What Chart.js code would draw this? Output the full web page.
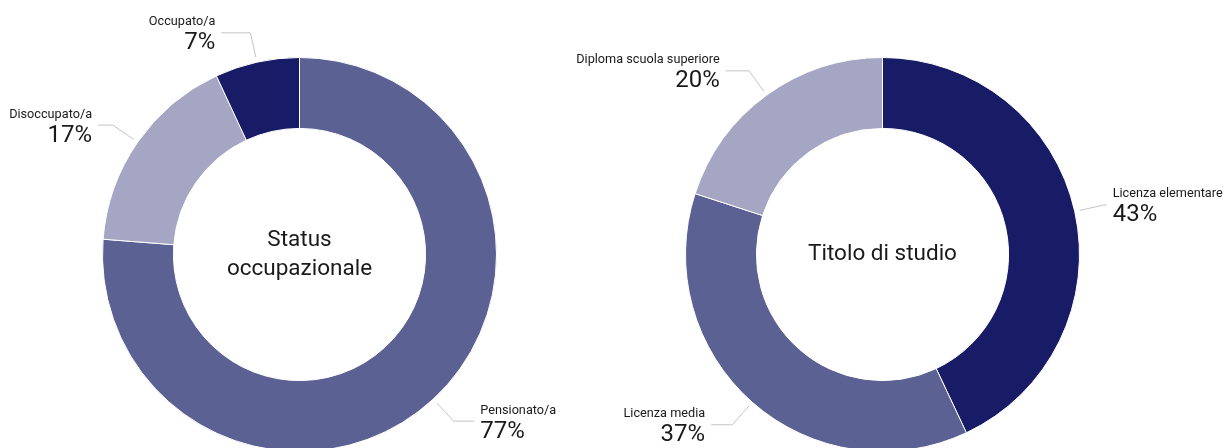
<!DOCTYPE html>
<html>
<head>
<meta charset="utf-8">
<script src="https://cdn.jsdelivr.net/npm/chart.js@4"></script>
<style>
  html, body { margin: 0; padding: 0; background: #fff; overflow: hidden; }
  .wrap { position: absolute; top: 0; height: 460px; }
  #leftWrap { left: 0; width: 614px; }
  #rightWrap { left: 500px; width: 728px; }
</style>
</head>
<body>
<div class="wrap" id="leftWrap"><canvas id="statusChart" width="614" height="460"></canvas></div>
<div class="wrap" id="rightWrap"><canvas id="studyChart" width="728" height="460"></canvas></div>
<script>
// Status occupazionale
const statusLabels = ['Pensionato/a', 'Disoccupato/a', 'Occupato/a'];
const statusValues = [77, 17, 7];
const statusTitle = ['Status', 'occupazionale'];

// Titolo di studio
const studyLabels = ['Licenza elementare', 'Licenza media', 'Diploma scuola superiore'];
const studyValues = [43, 37, 20];
const studyTitle = ['Titolo di studio'];

const DARK = '#181c66';
const MID = '#5c6194';
const LIGHT = '#a5a6c4';
const TEXT = '#1a1a1a';
const FONT = 'Roboto, "Noto Sans", sans-serif';

// draws the centre title and the outside labels with leader lines
const calloutPlugin = {
  id: 'callouts',
  afterDraw(chart, args, opts) {
    const ctx = chart.ctx;
    const meta = chart.getDatasetMeta(0);
    const values = chart.data.datasets[0].data;
    const labels = chart.data.labels;
    ctx.save();

    meta.data.forEach((arc, i) => {
      const { x, y, startAngle, endAngle, outerRadius } = arc.getProps(['x', 'y', 'startAngle', 'endAngle', 'outerRadius'], true);
      const mid = (startAngle + endAngle) / 2;
      const dx = Math.cos(mid), dy = Math.sin(mid);
      const side = dx >= 0 ? 1 : -1;
      const sx = x + (outerRadius + 5) * dx, sy = y + (outerRadius + 5) * dy;
      const ex = x + (outerRadius + 30) * dx, ey = y + (outerRadius + 30) * dy;
      const hx = ex + side * Math.max(0, 35 * Math.abs(dy) - 5);

      ctx.strokeStyle = '#c4c4c4';
      ctx.lineWidth = 1;
      ctx.beginPath();
      ctx.moveTo(sx, sy);
      ctx.lineTo(ex, ey);
      ctx.lineTo(hx, ey);
      ctx.stroke();

      const tx = hx + side * 6;
      ctx.fillStyle = TEXT;
      ctx.textAlign = side > 0 ? 'left' : 'right';
      ctx.textBaseline = 'alphabetic';
      ctx.font = '12.7px ' + FONT;
      ctx.fillText(labels[i], tx, ey - 7.5);
      ctx.font = '24px ' + FONT;
      ctx.fillText(values[i] + '%', tx, ey + 16.5);
    });

    const c = meta.data[0];
    const lines = opts.title;
    const lh = 29;
    ctx.font = '22.5px ' + FONT;
    ctx.textAlign = 'center';
    ctx.textBaseline = 'middle';
    ctx.fillStyle = TEXT;
    lines.forEach((t, k) => {
      ctx.fillText(t, c.x, c.y + (k - (lines.length - 1) / 2) * lh);
    });
    ctx.restore();
  }
};

function makeDoughnut(id, labels, values, colors, title, padding) {
  return new Chart(document.getElementById(id), {
    type: 'doughnut',
    data: {
      labels: labels,
      datasets: [{
        data: values,
        backgroundColor: colors,
        borderColor: '#ffffff',
        borderWidth: 1
      }]
    },
    options: {
      responsive: false,
      animation: false,
      cutout: '64%',
      layout: { padding: padding },
      plugins: {
        legend: { display: false },
        tooltip: { enabled: false },
        callouts: { title: title }
      }
    },
    plugins: [calloutPlugin]
  });
}

makeDoughnut('statusChart', statusLabels, statusValues, [MID, LIGHT, DARK], statusTitle,
  { left: 102, right: 117, top: 57, bottom: 8 });
makeDoughnut('studyChart', studyLabels, studyValues, [DARK, MID, LIGHT], studyTitle,
  { left: 185, right: 148, top: 57, bottom: 8 });
</script>
</body>
</html>
